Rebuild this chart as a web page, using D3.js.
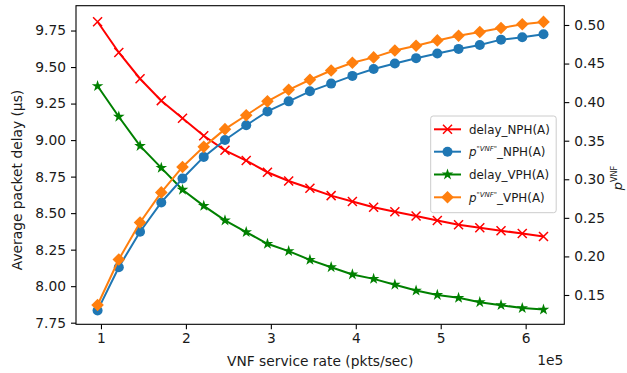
<!DOCTYPE html>
<html><head><meta charset="utf-8">
<script src="https://cdn.jsdelivr.net/npm/d3@7"></script>
<style>
html,body{margin:0;padding:0;background:#fff;}
svg{display:block;font-family:"DejaVu Sans",sans-serif;}
</style></head>
<body>
<svg id="chart" width="627" height="373"></svg>
<script>
// ---- data ----
const serviceRate = [0.96,1.21,1.46,1.71,1.96,2.21,2.46,2.71,2.96,3.21,3.46,3.71,3.96,4.21,4.46,4.71,4.96,5.21,5.46,5.71,5.96,6.21]; // x 1e5
const delayNPH = [9.81,9.60,9.42,9.27,9.15,9.03,8.93,8.86,8.78,8.72,8.67,8.62,8.58,8.54,8.51,8.48,8.45,8.42,8.40,8.38,8.36,8.34];
const delayVPH = [9.37,9.16,8.96,8.81,8.66,8.55,8.45,8.37,8.29,8.24,8.18,8.13,8.08,8.05,8.01,7.97,7.94,7.92,7.89,7.87,7.85,7.84];
const pNPH = [0.130,0.186,0.232,0.270,0.301,0.329,0.351,0.370,0.388,0.401,0.414,0.424,0.434,0.443,0.450,0.457,0.463,0.469,0.474,0.481,0.484,0.488];
const pVPH = [0.137,0.196,0.244,0.283,0.316,0.342,0.365,0.383,0.401,0.416,0.429,0.441,0.451,0.458,0.467,0.473,0.480,0.486,0.491,0.496,0.501,0.504];
const xTicks = [1,2,3,4,5,6];
const leftTicks = [7.75,8.00,8.25,8.50,8.75,9.00,9.25,9.50,9.75];
const rightTicks = [0.15,0.20,0.25,0.30,0.35,0.40,0.45,0.50];
const seriesNames = ["delay_NPH(A)","_NPH(A)","delay_VPH(A)","_VPH(A)"];

// ---- layout ----
const L = 76, R = 564.3, T = 5.7, B = 324.3;
const svg = d3.select("#chart");
const x = d3.scaleLinear().domain([0.706, 6.455]).range([L, R]);
const yL = d3.scaleLinear().domain([7.739, 9.92]).range([B, T]);
const yR = d3.scaleLinear().domain([0.112, 0.525]).range([B, T]);
const txt = "#1a1a1a", fs = 13.8;

// axes
const gx = svg.append("g").attr("transform", `translate(0,${B})`)
  .call(d3.axisBottom(x).tickValues(xTicks).tickFormat(d3.format("d")).tickSize(5).tickPadding(4));
const gl = svg.append("g").attr("transform", `translate(${L},0)`)
  .call(d3.axisLeft(yL).tickValues(leftTicks).tickFormat(d3.format(".2f")).tickSize(5).tickPadding(5));
const gr = svg.append("g").attr("transform", `translate(${R},0)`)
  .call(d3.axisRight(yR).tickValues(rightTicks).tickFormat(d3.format(".2f")).tickSize(5).tickPadding(5));
[gx, gl, gr].forEach(g => {
  g.select(".domain").remove();
  g.selectAll(".tick line").attr("stroke", "#000").attr("stroke-width", 1.1);
  g.selectAll(".tick text").attr("fill", txt).style("font-size", fs + "px").style("font-family", "DejaVu Sans");
});
gx.selectAll(".tick text").attr("dy", "0.71em");

// frame
svg.append("rect").attr("x", L).attr("y", T).attr("width", R - L).attr("height", B - T)
  .attr("fill", "none").attr("stroke", "#000").attr("stroke-width", 1.1);

// labels
svg.append("text").attr("x", (L + R) / 2).attr("y", 366).attr("text-anchor", "middle")
  .attr("fill", txt).style("font-size", fs + "px").text("VNF service rate (pkts/sec)");
svg.append("text").attr("x", R - 1).attr("y", 365).attr("text-anchor", "end")
  .attr("fill", txt).style("font-size", fs + "px").text("1e5");
svg.append("text").attr("transform", "translate(22,180) rotate(-90)").attr("text-anchor", "middle")
  .attr("fill", txt).style("font-size", fs + "px").text("Average packet delay (μs)");
const rl = svg.append("text").attr("transform", "translate(622,178) rotate(-90)").attr("text-anchor", "middle")
  .attr("fill", txt).style("font-size", "13px");
rl.append("tspan").style("font-style", "italic").text("p");
rl.append("tspan").attr("dy", -5).style("font-size", "8px").text("VNF");

// markers
function marker(sel, type, color) {
  if (type === "x") {
    sel.append("path").attr("d", "M-4.5,-4.5L4.5,4.5M-4.5,4.5L4.5,-4.5")
      .attr("stroke", color).attr("stroke-width", 1.5).attr("fill", "none");
  } else if (type === "o") {
    sel.append("circle").attr("r", 5).attr("fill", color);
  } else if (type === "D") {
    sel.append("path").attr("d", "M0,-6.3L6.3,0L0,6.3L-6.3,0Z").attr("fill", color);
  } else if (type === "*") {
    sel.append("path").attr("d", d3.symbol(d3.symbolStar, 42)()).attr("fill", color);
  }
}

const series = [
  {vals: delayNPH, scale: yL, color: "#ff0000", m: "x"},
  {vals: delayVPH, scale: yL, color: "#008000", m: "*"},
  {vals: pNPH, scale: yR, color: "#1f77b4", m: "o"},
  {vals: pVPH, scale: yR, color: "#ff7f0e", m: "D"}
];
series.forEach(s => {
  const line = d3.line().x((d, i) => x(serviceRate[i])).y(d => s.scale(d));
  svg.append("path").datum(s.vals).attr("d", line).attr("fill", "none")
    .attr("stroke", s.color).attr("stroke-width", 2);
  const g = svg.append("g");
  s.vals.forEach((v, i) => {
    const mg = g.append("g").attr("transform", `translate(${x(serviceRate[i])},${s.scale(v)})`);
    marker(mg, s.m, s.color);
  });
});

// legend
const leg = svg.append("g");
leg.append("rect").attr("x", 430.7).attr("y", 116).attr("width", 125.5).attr("height", 96.7)
  .attr("rx", 2.5).attr("fill", "#fff").attr("fill-opacity", 0.85).attr("stroke", "#cccccc").attr("stroke-width", 1);
const legItems = [
  {name: seriesNames[0], color: "#ff0000", m: "x", p: false},
  {name: seriesNames[1], color: "#1f77b4", m: "o", p: true},
  {name: seriesNames[2], color: "#008000", m: "*", p: false},
  {name: seriesNames[3], color: "#ff7f0e", m: "D", p: true}
];
const rowY = [129.3, 151.7, 174.5, 197.3];
legItems.forEach((it, i) => {
  const y = rowY[i];
  leg.append("line").attr("x1", 434).attr("x2", 461).attr("y1", y).attr("y2", y)
    .attr("stroke", it.color).attr("stroke-width", 2);
  const mg = leg.append("g").attr("transform", `translate(447.5,${y})`);
  marker(mg, it.m, it.color);
  const t = leg.append("text").attr("x", 469).attr("y", y + 4.3).attr("fill", txt).style("font-size", "11.9px");
  if (it.p) {
    t.append("tspan").style("font-style", "italic").text("p");
    t.append("tspan").attr("dy", -5).style("font-size", "7px").style("font-style", "italic").text("\"VNF\"");
    t.append("tspan").attr("dy", 5).text(it.name);
  } else {
    t.text(it.name);
  }
});
</script>
</body></html>
